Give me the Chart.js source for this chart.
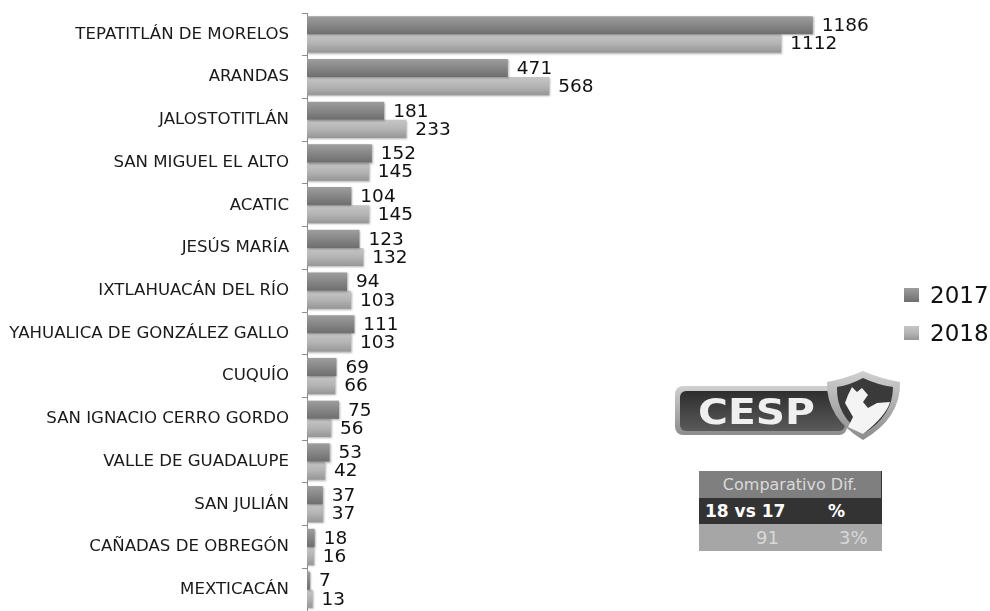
<!DOCTYPE html>
<html lang="es">
<head>
<meta charset="utf-8">
<title>Comparativo 2017 - 2018</title>
<script src="https://cdn.jsdelivr.net/npm/chart.js@4"></script>
<style>
  body { margin: 0; background: #fff; }
  #wrap { position: relative; width: 990px; height: 611px; overflow: hidden; }
  #chart1 { position: absolute; left: 0; top: 0; }
  .legend-item { position: absolute; left: 904px; font: 23px "DejaVu Sans", sans-serif; color: #111; line-height: 28px; height: 28px; }
  .legend-item i { position: absolute; left: 0; top: 7px; width: 15px; height: 14px; }
  .legend-item span { position: absolute; left: 26px; }
  #logo { position: absolute; left: 672px; top: 368px; }
  #tabla { position: absolute; left: 699px; top: 471px; width: 183px; font-family: "DejaVu Sans", sans-serif; }
  #tabla div { position: relative; height: 27px; line-height: 27px; }
  #tabla span { position: absolute; white-space: nowrap; }
  .fila1 { background: #7f7f7f; color: #d9d9d9; font-size: 16px; text-align: center; border-right: 1px solid #333; box-sizing: border-box; }
  .fila2 { background: #333; color: #fff; font-size: 17px; font-weight: bold; height: 26px !important; line-height: 26px !important; }
  .fila3 { background: #a6a6a6; color: #d9d9d9; font-size: 18px; }
</style>
</head>
<body>
<div id="wrap">
  <canvas id="chart1" width="990" height="611"></canvas>
  <div id="leyenda"></div>
  <svg id="logo" width="232" height="74" viewBox="0 0 232 74">
    <defs>
      <linearGradient id="marco" x1="0" y1="0" x2="0" y2="1">
        <stop offset="0" stop-color="#d0d0d0"/><stop offset="1" stop-color="#8c8c8c"/>
      </linearGradient>
      <linearGradient id="fondo" x1="0" y1="0" x2="0" y2="1">
        <stop offset="0" stop-color="#2e2e2e"/><stop offset="1" stop-color="#5a5a5a"/>
      </linearGradient>
    </defs>
    <rect x="3" y="18" width="172" height="49" rx="8" fill="url(#marco)"/>
    <rect x="8" y="23" width="165" height="40" rx="6" fill="url(#fondo)"/>
    <text x="26" y="56" font-family="'DejaVu Sans', sans-serif" font-size="35" font-weight="bold" fill="#efefef" textLength="117" lengthAdjust="spacingAndGlyphs">CESP</text>
    <path d="M191 3 Q210 11 228 14 Q229 50 191 72 Q154 50 155 14 Q172 11 191 3 Z" fill="url(#marco)"/>
    <path d="M191 10 Q206 17 221 19 Q221 48 191 66 Q164 48 165 19 Q178 17 191 10 Z" fill="#3a3a3a"/>
    <path d="M180 19 L185 24 L190 20 L196 27 L191 34 L196 40 L205 35 L218 34 Q214 48 191 66 L176 59 L181 49 L173 35 L176 27 Z" fill="#f4f4f4"/>
  </svg>
  <div id="tabla">
    <div class="fila1">Comparativo Dif.</div>
    <div class="fila2"><span style="left:6px">18 vs 17</span><span style="left:129px">%</span></div>
    <div class="fila3"><span style="left:57px">91</span><span style="left:140px">3%</span></div>
  </div>
</div>
<script>
// Datos
var municipios = ['TEPATITLÁN DE MORELOS', 'ARANDAS', 'JALOSTOTITLÁN', 'SAN MIGUEL EL ALTO', 'ACATIC', 'JESÚS MARÍA',
  'IXTLAHUACÁN DEL RÍO', 'YAHUALICA DE GONZÁLEZ GALLO', 'CUQUÍO', 'SAN IGNACIO CERRO GORDO', 'VALLE DE GUADALUPE',
  'SAN JULIÁN', 'CAÑADAS DE OBREGÓN', 'MEXTICACÁN'];
var valores2017 = [1186, 471, 181, 152, 104, 123, 94, 111, 69, 75, 53, 37, 18, 7];
var valores2018 = [1112, 568, 233, 145, 145, 132, 103, 103, 66, 56, 42, 37, 16, 13];
var series = ['2017', '2018'];

var colores = [
  ['#9e9e9e', '#868686', '#6e6e6e'],
  ['#c6c6c6', '#b4b4b4', '#969696']
];
var anchoCategoria = 0.85;

// Degradado vertical de cada barra, a partir de la escala y
function relleno(i) {
  return function(c) {
    var eje = c.chart.scales.y;
    if (!eje || c.dataIndex === undefined) return colores[i][1];
    var centro = eje.getPixelForValue(c.dataIndex);
    if (!isFinite(centro) || !eje.height) return colores[i][1];
    var alto = eje.height / municipios.length * anchoCategoria / 2;
    var arriba = i === 0 ? centro - alto : centro;
    var g = c.chart.ctx.createLinearGradient(0, arriba, 0, arriba + alto);
    g.addColorStop(0, colores[i][0]);
    g.addColorStop(0.5, colores[i][1]);
    g.addColorStop(1, colores[i][2]);
    return g;
  };
}

var etiquetas = {
  id: 'etiquetas',
  beforeDatasetDraw: function(chart) {
    chart.ctx.save();
    chart.ctx.shadowColor = 'rgba(0,0,0,0.3)';
    chart.ctx.shadowBlur = 2;
    chart.ctx.shadowOffsetX = 1;
    chart.ctx.shadowOffsetY = 1;
  },
  afterDatasetDraw: function(chart) {
    chart.ctx.restore();
  },
  afterDatasetsDraw: function(chart) {
    var ctx = chart.ctx;
    ctx.save();
    ctx.font = '18.5px "DejaVu Sans", sans-serif';
    ctx.fillStyle = '#111';
    ctx.textAlign = 'left';
    ctx.textBaseline = 'middle';
    chart.data.datasets.forEach(function(ds, d) {
      chart.getDatasetMeta(d).data.forEach(function(bar, i) {
        ctx.fillText(ds.data[i], bar.x + 9, bar.y + 1);
      });
    });
    ctx.restore();
  }
};

var ctx1 = document.getElementById('chart1').getContext('2d');
new Chart(ctx1, {
  type: 'bar',
  data: {
    labels: municipios,
    datasets: [
      { label: series[0], data: valores2017, backgroundColor: relleno(0) },
      { label: series[1], data: valores2018, backgroundColor: relleno(1) }
    ]
  },
  options: {
    indexAxis: 'y',
    responsive: false,
    animation: false,
    categoryPercentage: anchoCategoria,
    barPercentage: 1,
    layout: { padding: { top: 13, right: 86, bottom: 0, left: 0 } },
    plugins: { legend: { display: false }, tooltip: { enabled: false } },
    scales: {
      x: { display: false, min: 0, max: 1400 },
      y: {
        afterFit: function(axis) {
          axis.width = 307;
          axis.paddingTop = 0;
          axis.paddingBottom = 0;
        },
        border: { color: '#8c8c8c' },
        grid: { drawOnChartArea: false, color: '#8c8c8c', tickLength: 5 },
        ticks: {
          autoSkip: false,
          padding: 13,
          color: '#1a1a1a',
          font: { family: '"DejaVu Sans", sans-serif', size: 16.6 }
        }
      }
    }
  },
  plugins: [etiquetas]
});

// Leyenda a la derecha
var leyenda = document.getElementById('leyenda');
series.forEach(function(s, i) {
  var item = document.createElement('div');
  item.className = 'legend-item';
  item.style.top = (281 + i * 38) + 'px';
  item.innerHTML = '<i style="background:linear-gradient(' + colores[i].join(',') + ')"></i><span>' + s + '</span>';
  leyenda.appendChild(item);
});
</script>
</body>
</html>
